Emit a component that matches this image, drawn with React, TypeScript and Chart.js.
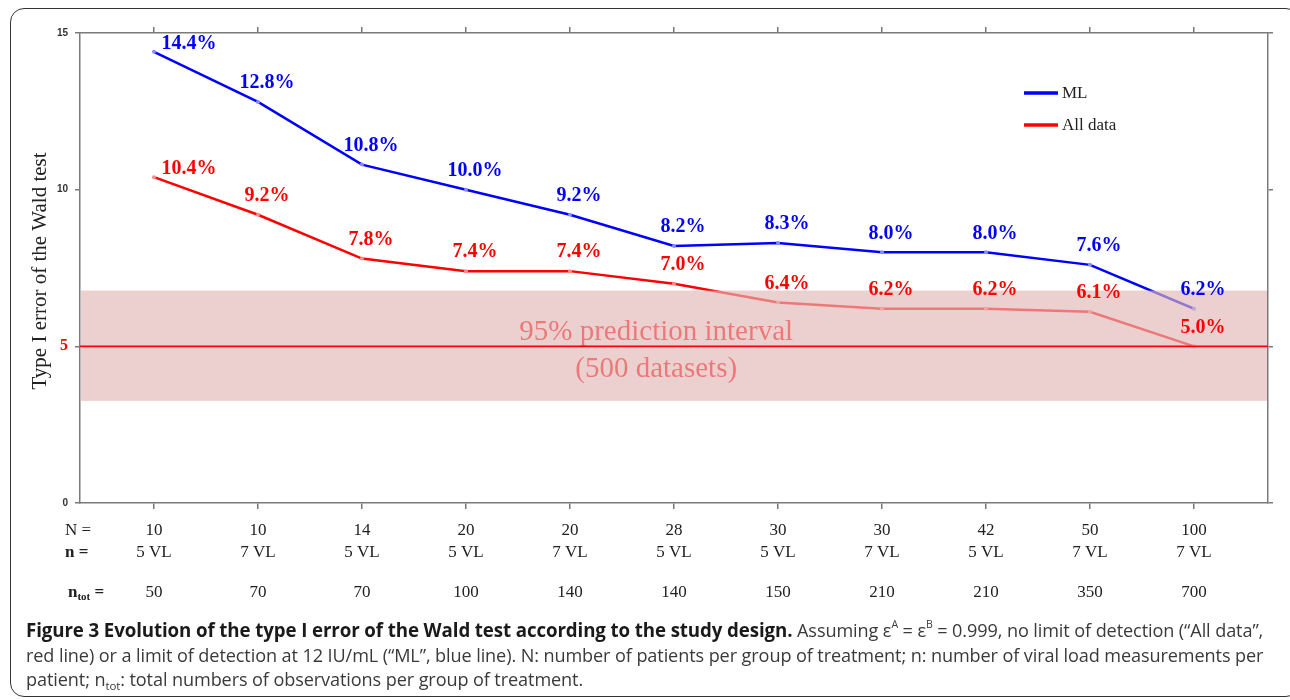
import React, { useEffect, useRef } from "react";
import { Chart, registerables } from "chart.js";

Chart.register(...registerables);

// ---- data ----
const patientsN = ["10", "10", "14", "20", "20", "28", "30", "30", "42", "50", "100"];
const measurementsN = ["5 VL", "7 VL", "5 VL", "5 VL", "7 VL", "5 VL", "5 VL", "7 VL", "5 VL", "7 VL", "7 VL"];
const totalObs = ["50", "70", "70", "100", "140", "140", "150", "210", "210", "350", "700"];
const mlValues = [14.4, 12.8, 10.8, 10.0, 9.2, 8.2, 8.3, 8.0, 8.0, 7.6, 6.2];
const allDataValues = [10.4, 9.2, 7.8, 7.4, 7.4, 7.0, 6.4, 6.2, 6.2, 6.1, 5.0];
const yTicks = [0, 5, 10, 15];
const bandLow = 3.26;
const bandHigh = 6.78;
const refLevel = 5;
const seriesNames = ["ML", "All data"];
const rowLabels = ["N =", "n =", "n"];
const bandTitle = "95% prediction interval";
const bandSubtitle = "(500 datasets)";
const yTitle = "Type I error of the Wald test";

const SERIF = '"Liberation Serif", "Times New Roman", serif';
const xMin = -0.7115;
const xMax = patientsN.length - 1 + 0.7115;

const overlayPlugin = {
  id: "overlay",
  afterDatasetsDraw(chart: any) {
    const { ctx, chartArea, scales } = chart;
    const xs = scales.x;
    const ys = scales.y;
    ctx.save();

    // band text (under the band)
    ctx.fillStyle = "#ff0000";
    ctx.font = `29px ${SERIF}`;
    ctx.textAlign = "center";
    ctx.textBaseline = "middle";
    const cx = chartArea.left + chartArea.width * 0.485;
    ctx.fillText(bandTitle, cx, ys.getPixelForValue(5.45));
    ctx.fillText(bandSubtitle, cx, ys.getPixelForValue(4.25));

    // band
    const top = ys.getPixelForValue(bandHigh);
    const bot = ys.getPixelForValue(bandLow);
    ctx.fillStyle = "rgba(226,183,183,0.655)";
    ctx.fillRect(chartArea.left + 1, top, chartArea.width - 2, bot - top);

    // reference line
    const ry = ys.getPixelForValue(refLevel);
    ctx.strokeStyle = "#ff0000";
    ctx.lineWidth = 1.6;
    ctx.beginPath();
    ctx.moveTo(chartArea.left, ry);
    ctx.lineTo(chartArea.right, ry);
    ctx.stroke();

    // data labels
    ctx.font = `bold 20px ${SERIF}`;
    ctx.textAlign = "center";
    ctx.textBaseline = "middle";
    chart.data.datasets.forEach((ds: any, di: number) => {
      const meta = chart.getDatasetMeta(di);
      meta.data.forEach((pt: any, i: number) => {
        const v = ds.data[i].y;
        const dx = i === 0 ? 35 : 9;
        const dy = i === 0 ? 8 : 19;
        ctx.fillStyle = ds.borderColor;
        ctx.fillText(v.toFixed(1) + "%", pt.x + dx, pt.y - dy);
      });
    });

    // legend
    chart.data.datasets.forEach((ds: any, di: number) => {
      const ly = chartArea.top + 60 + di * 32;
      const lx = chartArea.right - 244;
      ctx.strokeStyle = ds.borderColor;
      ctx.lineWidth = 3.5;
      ctx.beginPath();
      ctx.moveTo(lx, ly);
      ctx.lineTo(lx + 34, ly);
      ctx.stroke();
      ctx.fillStyle = "#222";
      ctx.font = `17px ${SERIF}`;
      ctx.textAlign = "left";
      ctx.textBaseline = "middle";
      ctx.fillText(ds.label, lx + 38, ly + 1);
    });

    // y title
    ctx.save();
    ctx.translate(40, (chartArea.top + chartArea.bottom) / 2 + 3);
    ctx.rotate(-Math.PI / 2);
    ctx.fillStyle = "#222";
    ctx.font = `21px ${SERIF}`;
    ctx.textAlign = "center";
    ctx.textBaseline = "middle";
    ctx.fillText(yTitle, 0, 0);
    ctx.restore();

    // table under axis
    const r1 = chartArea.bottom + 28;
    const r2 = chartArea.bottom + 50;
    const r3 = chartArea.bottom + 90;
    ctx.fillStyle = "#222";
    ctx.textBaseline = "middle";
    ctx.textAlign = "left";
    ctx.font = `17px ${SERIF}`;
    ctx.fillText(rowLabels[0], 65, r1);
    ctx.font = `bold 17px ${SERIF}`;
    ctx.fillText(rowLabels[1], 65, r2);
    ctx.fillText(rowLabels[2], 68, r3);
    const nw = ctx.measureText(rowLabels[2]).width;
    ctx.font = `bold 11px ${SERIF}`;
    ctx.fillText("tot", 68 + nw, r3 + 4);
    const tw = ctx.measureText("tot").width;
    ctx.font = `bold 17px ${SERIF}`;
    ctx.fillText(" =", 68 + nw + tw, r3);

    ctx.font = `17px ${SERIF}`;
    ctx.textAlign = "center";
    patientsN.forEach((lab, i) => {
      const x = xs.getPixelForValue(i);
      ctx.fillText(lab, x, r1);
      ctx.fillText(measurementsN[i], x, r2);
      ctx.fillText(totalObs[i], x, r3);
    });

    ctx.restore();
  },
};

const axisGrid = {
  drawOnChartArea: false,
  drawTicks: true,
  tickLength: 6,
  color: "#7a7a7a",
  lineWidth: 1.5,
};
const axisBorder = { display: true, color: "#7a7a7a", width: 1.5 };
const catTicks = (s: any) => {
  s.ticks = patientsN.map((_, i) => ({ value: i }));
};
const valTicks = (s: any) => {
  s.ticks = yTicks.map((v) => ({ value: v }));
};

export default function App() {
  const ref = useRef<HTMLCanvasElement | null>(null);

  useEffect(() => {
    if (!ref.current) return;
    const chart = new Chart(ref.current, {
      type: "line",
      data: {
        datasets: [
          {
            label: seriesNames[0],
            data: mlValues.map((v, i) => ({ x: i, y: v })),
            borderColor: "#0000ff",
            backgroundColor: "#0000ff",
            borderWidth: 2.5,
            pointRadius: 2,
            pointBackgroundColor: "#8a8aff",
            pointBorderWidth: 0,
            tension: 0,
            clip: false,
          },
          {
            label: seriesNames[1],
            data: allDataValues.map((v, i) => ({ x: i, y: v })),
            borderColor: "#ff0000",
            backgroundColor: "#ff0000",
            borderWidth: 2.5,
            pointRadius: 2,
            pointBackgroundColor: "#ff8a8a",
            pointBorderWidth: 0,
            tension: 0,
            clip: false,
          },
        ],
      },
      options: {
        animation: false,
        responsive: false,
        layout: { padding: { left: 0, right: 17, top: 27, bottom: 191 } },
        plugins: { legend: { display: false }, tooltip: { enabled: false } },
        scales: {
          x: {
            type: "linear",
            position: "bottom",
            min: xMin,
            max: xMax,
            grid: axisGrid,
            border: axisBorder,
            ticks: { display: false },
            afterBuildTicks: catTicks,
            afterFit: (s: any) => {
              s.height = 6;
            },
          },
          xTop: {
            type: "linear",
            position: "top",
            min: xMin,
            max: xMax,
            grid: axisGrid,
            border: axisBorder,
            ticks: { display: false },
            afterBuildTicks: catTicks,
            afterFit: (s: any) => {
              s.height = 6;
            },
          },
          y: {
            type: "linear",
            position: "left",
            min: 0,
            max: 15,
            grid: { ...axisGrid, tickLength: 5 },
            border: axisBorder,
            afterBuildTicks: valTicks,
            ticks: {
              padding: 7,
              color: (c: any) => (c.tick && c.tick.value === refLevel ? "#ff0000" : "#333"),
              font: (c: any) =>
                c.tick && c.tick.value === refLevel
                  ? { family: SERIF, size: 16, weight: "bold" }
                  : { family: '"Liberation Sans", Arial, sans-serif', size: 10, weight: "bold" },
            },
            afterFit: (s: any) => {
              s.width = 80;
            },
          },
          yRight: {
            type: "linear",
            position: "right",
            min: 0,
            max: 15,
            grid: { ...axisGrid, tickLength: 5 },
            border: axisBorder,
            afterBuildTicks: valTicks,
            ticks: { display: false },
            afterFit: (s: any) => {
              s.width = 5;
            },
          },
        },
      },
      plugins: [overlayPlugin],
    } as any);
    return () => chart.destroy();
  }, []);

  const captionLine: React.CSSProperties = {
    position: "absolute",
    left: 26,
    whiteSpace: "nowrap",
    fontFamily: "'Open Sans', Lato, sans-serif",
    fontSize: "18.1px",
    lineHeight: "20px",
    height: 20,
    color: "#3a3a3a",
    letterSpacing: "-0.1px",
  };
  const supStyle: React.CSSProperties = { fontSize: "10.5px", verticalAlign: "top", lineHeight: "10px", position: "relative", top: -1 };
  const subStyle: React.CSSProperties = { fontSize: "11.5px", verticalAlign: "baseline", lineHeight: "10px", position: "relative", top: 4 };

  return (
    <div style={{ position: "absolute", left: 0, top: 0, width: 1290, height: 700, overflow: "hidden", background: "#fff" }}>
      <div
        style={{
          position: "absolute",
          left: 10,
          top: 8,
          width: 1290,
          height: 689,
          border: "1.5px solid #333",
          borderRadius: 14,
          boxSizing: "border-box",
        }}
      />
      <canvas ref={ref} width={1290} height={700} style={{ position: "absolute", left: 0, top: 0, width: 1290, height: 700 }} />
      <div style={{ ...captionLine, top: 620 }}>
        <b style={{ color: "#1a1a1a", fontWeight: 700, fontSize: "18.7px" }}>
          Figure 3 Evolution of the type I error of the Wald test according to the study design.
        </b>{" "}
        Assuming ε<span style={supStyle}>A</span> = ε<span style={supStyle}>B</span> = 0.999, no limit of detection (“All data”,
      </div>
      <div style={{ ...captionLine, top: 645 }}>
        red line) or a limit of detection at 12 IU/mL (“ML”, blue line). N: number of patients per group of treatment; n: number of viral load measurements per
      </div>
      <div style={{ ...captionLine, top: 669 }}>
        patient; n<span style={subStyle}>tot</span>: total numbers of observations per group of treatment.
      </div>
    </div>
  );
}
